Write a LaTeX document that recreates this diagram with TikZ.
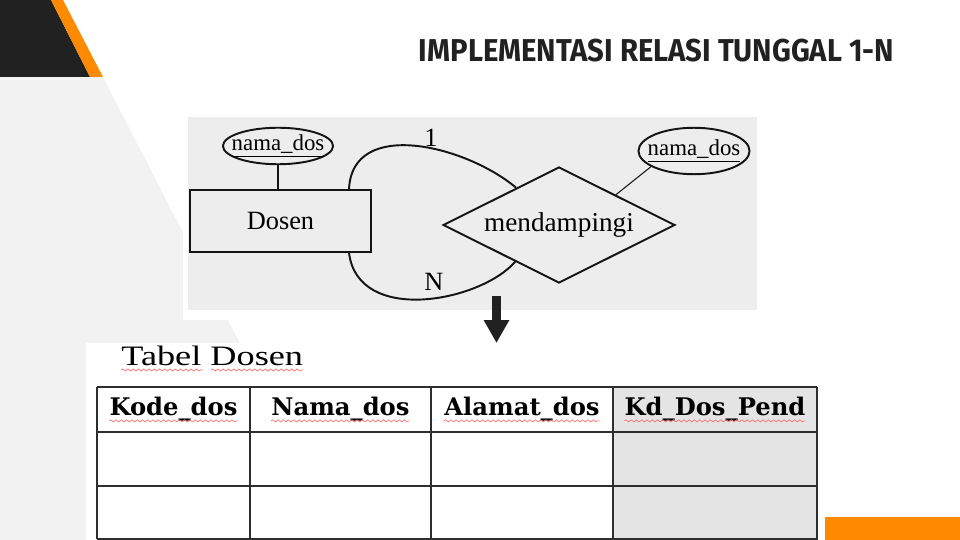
\documentclass[tikz,border=0pt]{standalone}
\usepackage{fontspec}
\setmainfont{Liberation Serif}
\newfontfamily\titlefont{Fira Sans}
\newfontfamily\slabfont{DejaVu Serif}
\usetikzlibrary{shapes.geometric,arrows.meta,decorations.pathmorphing,positioning}

\definecolor{darkbg}{HTML}{212121}
\definecolor{accent}{HTML}{FF8A00}
\definecolor{slidegray}{HTML}{F2F2F2}
\definecolor{scanbg}{HTML}{EDEDED}
\definecolor{cellgray}{HTML}{E4E4E4}
\definecolor{ink}{HTML}{141414}
\definecolor{tblline}{HTML}{2E2E2E}

\begin{document}
\begin{tikzpicture}[x=0.02cm,y=-0.02cm,
	entity/.style={draw=ink,line width=1.1pt,minimum width=3.62cm,minimum height=1.24cm,inner sep=0pt,font=\fontsize{15}{17}\selectfont},
	attr/.style={ellipse,draw=ink,line width=1.1pt,font=\fontsize{13}{15}\selectfont},
	relation/.style={diamond,draw=ink,line width=1.1pt,aspect=2,minimum width=4.64cm,minimum height=2.32cm,inner sep=0pt,font=\fontsize{15.5}{17}\selectfont},
	er/.style={draw=ink,line width=1.1pt},
	hdr/.style={inner sep=0pt,font=\slabfont\bfseries\fontsize{13.8}{15}\selectfont},
	spell/.style={draw=red!55,line width=0.4pt,decorate,decoration={snake,segment length=3pt,amplitude=0.6pt}},
	gridline/.style={draw=tblline,line width=0.6pt}]
	\useasboundingbox (0,0) rectangle (960,540);
	
	% slide background
	\fill[slidegray] (0,77) -- (103,77) -- (341,540) -- (0,540) -- cycle;
	\fill[darkbg] (0,0) -- (51,0) -- (90,77) -- (0,77) -- cycle;
	\fill[accent] (51,0) -- (63,0) -- (103,77) -- (90,77) -- cycle;
	\fill[accent] (825,517) rectangle (960,540);
	
	\node[font=\titlefont\bfseries\fontsize{18}{20}\selectfont,text=darkbg] (title) at (656.5,51) {\scalebox{0.925}[1]{IMPLEMENTASI RELASI TUNGGAL 1-N}};
	
	% ER diagram
	\fill[white] (183,112) rectangle (760,320);
	\fill[scanbg] (188,117) rectangle (757,310);
	
	\node[entity] (dosen) at (280.5,221) {Dosen};
	\node[attr,inner xsep=-4.2pt,inner ysep=1pt] (namaA) at (278,146) {\underline{nama\_dos}};
	\node[relation] (rel) at (559,225) {mendampingi};
	\node[attr,inner xsep=-4pt,inner ysep=3pt] (namaB) at (694,151) {\underline{nama\_dos}};
	
	\draw[er] (namaA.south) -- (namaA.south |- dosen.north);
	\draw[draw=ink,line width=0.6pt] (namaB.200) -- (rel.28);
	\draw[er] (dosen.25) .. controls (352,118) and (465,145) .. (rel.139);
	\draw[er] (dosen.-25) .. controls (358,325) and (480,302) .. (rel.220);
	\node[font=\fontsize{15}{17}\selectfont] (one) at (431,138) {1};
	\node[font=\fontsize{15}{17}\selectfont] (many) at (434,282) {N};
	
	% arrow down to the table
	\coordinate (arrtop) at (496.5,296);
	\coordinate (arrtip) at (496.5,343);
	\draw[darkbg,line width=5.1pt,-{Triangle[length=13pt,width=13.6pt]}] (arrtop) -- (arrtip);
	
	% table
	\fill[white] (86,343) rectangle (820,540);
	\node[anchor=base west,inner sep=0pt,font=\fontsize{16}{18}\selectfont] (tabel) at (121,366) {\scalebox{1.29}[1]{Tabel Dosen}};
	\draw[spell] ([shift={(0,4)}]tabel.base west) -- ++(82,0);
	\draw[spell] ([shift={(90,4)}]tabel.base west) -- ++(92,0);
	
	\fill[cellgray] (613,387) rectangle (817,539);
	\foreach \y in {387,432,486,539}
		\draw[gridline] (97,\y) -- (817,\y);
	\foreach \x in {97,250,431,613,817}
		\draw[gridline] (\x,387) -- (\x,539);
	\draw[tblline,line width=1pt] (97,539) -- (817,539) -- (817,387);
	
	\node[hdr] (kode) at (173.5,409.5) {Kode\_dos};
	\node[hdr] (nama) at (340.5,409.5) {Nama\_dos};
	\node[hdr] (alamat) at (522,409.5) {Alamat\_dos};
	\node[hdr] (kdpend) at (715,409.5) {Kd\_Dos\_Pend};
	\foreach \h in {kode,nama,alamat,kdpend}
		\draw[spell] ([shift={(0,5)}]\h.base west) -- ([shift={(0,5)}]\h.base east);
\end{tikzpicture}
\end{document}
